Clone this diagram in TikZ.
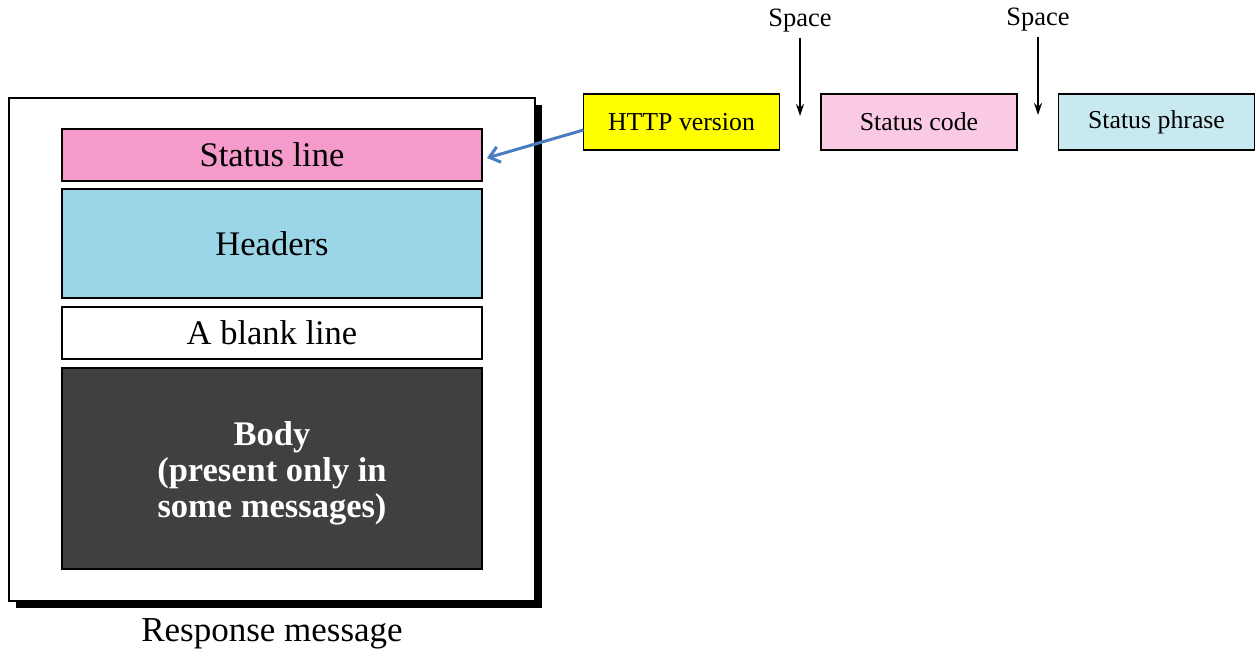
\documentclass[tikz,border=0pt]{standalone}
\usepackage{fontspec}
\setmainfont{Liberation Serif}
\usetikzlibrary{arrows.meta}
\definecolor{linepink}{HTML}{F59BCB}
\definecolor{headblue}{HTML}{9BD6E8}
\definecolor{bodygray}{HTML}{404040}
\definecolor{verylw}{HTML}{FFFF00}
\definecolor{codepink}{HTML}{FAC9E3}
\definecolor{phraseblue}{HTML}{C9E9F1}
\definecolor{linkblue}{HTML}{4A7CC0}
\tikzset{
  part/.style={draw=black, line width=1.5pt, inner sep=0pt, outer sep=0pt,
    minimum width=420pt, font=\fontsize{34.5}{37}\selectfont},
  field/.style={draw=black, line width=1.3pt, inner sep=0pt, outer sep=0pt,
    minimum width=196pt, minimum height=56pt, font=\fontsize{25.8}{28}\selectfont},
  lbl/.style={inner sep=0pt, font=\fontsize{26.5}{28}\selectfont},
  down/.style={-{Stealth[length=12pt,width=8pt]}, line width=1.2pt},
  bodytext/.style={text=white, align=center, inner sep=0pt, yshift=-5pt,
    font=\fontsize{34.5}{36}\selectfont\bfseries}
}
\begin{document}
\begin{tikzpicture}[x=1pt,y=-1pt]
\useasboundingbox (0,0) rectangle (1255,650);
% message frame with drop shadow
\fill[black] (16,105) rectangle (542,608);
\node[draw=black, fill=white, line width=1.8pt, inner sep=0pt, outer sep=0pt,
  minimum width=526pt, minimum height=503pt] (msg) at (272,349.5) {};
% the four parts of a response
\node[part, fill=linepink, minimum height=52pt] (sl) at (272,155) {Status line};
\node[part, fill=headblue, minimum height=109pt] (hd) at (272,243.5) {Headers};
\node[part, fill=white, minimum height=52pt] (bl) at (272,333) {A blank line};
\node[part, fill=bodygray, minimum height=201pt,
  label={[bodytext]center:{Body\\(present only in\\some messages)}}] (bd) at (272,468.5) {};
\node[inner sep=0pt, font=\fontsize{35}{36}\selectfont] (cap) at (272,634) {Response message};
% fields of the status line
\node[field, fill=verylw] (hv) at (681.5,122) {HTTP version};
\node[field, fill=codepink] (sc) at (919,122) {Status code};
\node[field, fill=phraseblue] (sp) at (1156.5,122) {Status phrase};
\node[lbl] (s1) at (800,21) {Space};
\node[lbl] (s2) at (1038,20) {Space};
\coordinate (g1) at (800,116);
\coordinate (g2) at (1038,115);
\draw[down] ([yshift=-17pt]s1.center) -- (g1);
\draw[down] ([yshift=-17pt]s2.center) -- (g2);
% link from the fields to the status line
\draw[linkblue, line width=3pt, -{Straight Barb[length=10pt,width=16pt]}]
  ([yshift=-8pt]hv.west) -- ([xshift=5pt,yshift=-3pt]sl.east);
\end{tikzpicture}
\end{document}
